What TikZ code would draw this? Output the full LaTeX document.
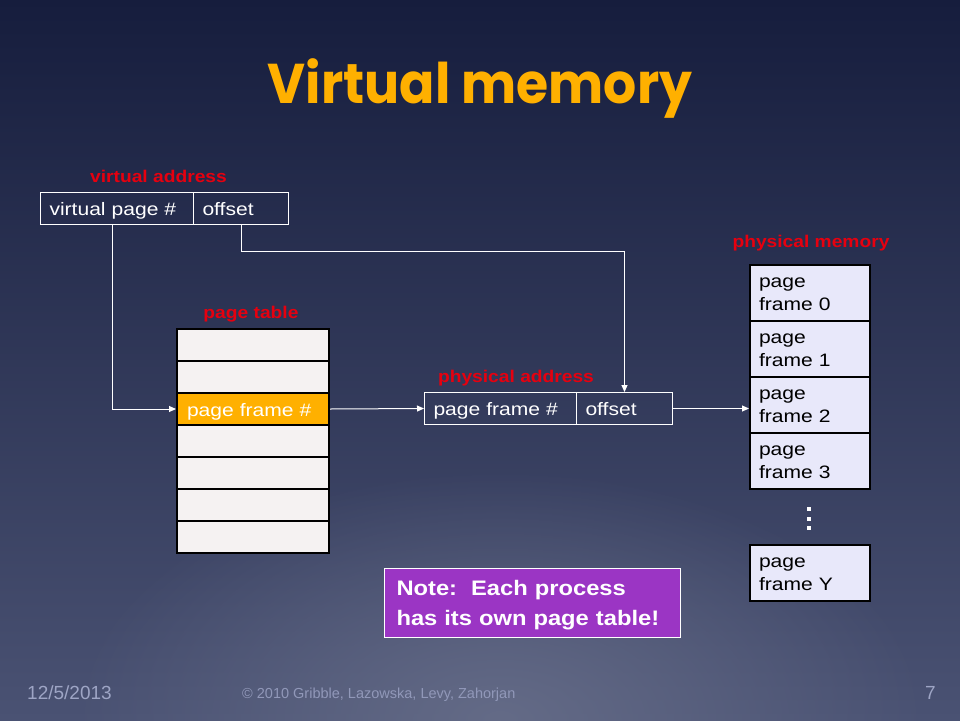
\documentclass[tikz,border=0pt]{standalone}
\usepackage{fontspec}
\setmainfont{Liberation Sans}[FakeStretch=1.17]
\newfontfamily\labfont{Liberation Sans}[FakeStretch=1.13]
\newfontfamily\titlefont{Poppins}[FakeStretch=0.93]
\newfontfamily\footfont{Liberation Sans}
\usetikzlibrary{arrows.meta,fadings}
\tikzfading[name=hlfade, inner color=transparent!0, outer color=transparent!100]
\definecolor{bgtop}{HTML}{161D3D}
\definecolor{bgmid}{HTML}{2C3456}
\definecolor{bgbot}{HTML}{4A5273}
\definecolor{bghl}{HTML}{646B87}
\definecolor{slideorange}{HTML}{FFB000}
\definecolor{labred}{HTML}{E6000F}
\definecolor{ptfill}{HTML}{F5F2F2}
\definecolor{pmfill}{HTML}{E8E8FA}
\definecolor{notepurple}{HTML}{9B35C4}
\definecolor{footgray}{HTML}{9EA5C5}
\begin{document}
\begin{tikzpicture}[x=1pt,y=-1pt,
  lab/.style={font=\labfont\bfseries\fontsize{17}{20}\selectfont, text=labred, anchor=base, inner sep=0pt},
  cell/.style={draw=white, line width=1pt, anchor=north west, minimum height=32pt,
    inner xsep=9pt, inner ysep=0pt, align=left, text height=14pt, text depth=0pt,
    font=\fontsize{18}{22}\selectfont, text=white},
  ptrow/.style={draw=black, line width=2pt, fill=ptfill, anchor=north west,
    minimum width=152pt, minimum height=32pt, inner sep=0pt},
  ptsel/.style={ptrow, fill=slideorange, text=white, align=left, text width=132pt,
    inner xsep=10pt, text height=15pt, text depth=0pt, font=\fontsize{18}{22}\selectfont},
  frame/.style={draw=black, line width=2pt, fill=pmfill, anchor=north west,
    minimum width=120pt, minimum height=56pt, text width=102pt, inner xsep=9pt, inner ysep=0pt,
    align=left, text height=14pt, text depth=25pt, font=\fontsize{18}{23}\selectfont, text=black},
  conn/.style={draw=white, line width=1pt, -{Triangle[length=7pt,width=6pt]}},
  foot/.style={font=\footfont\fontsize{19}{22}\selectfont, text=footgray, anchor=base west, inner sep=0pt}
]
\useasboundingbox (0,0) rectangle (960,720);
% background
\shade[top color=bgtop, middle color=bgmid, bottom color=bgbot] (0,0) rectangle (960,720);
\fill[bghl, path fading=hlfade] (500,720) ellipse [x radius=430, y radius=250];

% title
\node[font=\titlefont\bfseries\fontsize{56}{60}\selectfont, text=slideorange, anchor=base, inner sep=0pt] (title) at (480,103) {Virtual memory};

% labels
\node[lab] (lva) at (158.5,182.5) {virtual address};
\node[lab] (lpt) at (251,318) {page table};
\node[lab] (lpa) at (516,382.5) {physical address};
\node[lab] (lpm) at (811,247) {physical memory};

% virtual address
\node[cell, text width=135pt] (vpn) at (40,192) {virtual page \#};
\node[cell, text width=77pt] (voff) at (193,192) {offset};

% page table
\node[ptrow] (pt1) at (176,328) {};
\node[ptrow] (pt2) at (176,360) {};
\node[ptsel] (pt3) at (176,392) {page frame \#};
\node[ptrow] (pt4) at (176,424) {};
\node[ptrow] (pt5) at (176,456) {};
\node[ptrow] (pt6) at (176,488) {};
\node[ptrow] (pt7) at (176,520) {};

% physical address
\node[cell, text width=134pt] (pfn) at (424,392) {page frame \#};
\node[cell, text width=78pt] (poff) at (576,392) {offset};

% physical memory
\node[frame] (f0) at (749,264) {page\\frame 0};
\node[frame] (f1) at (749,320) {page\\frame 1};
\node[frame] (f2) at (749,376) {page\\frame 2};
\node[frame] (f3) at (749,432) {page\\frame 3};
\node[frame] (fy) at (749,544) {page\\frame Y};
\fill[white] (807,507) rectangle (811,511);
\fill[white] (807,516.5) rectangle (811,520.5);
\fill[white] (807,526) rectangle (811,530);

% connectors
\draw[conn] ([xshift=-4.5pt]vpn.south) |- (pt3.west);
\draw[conn] (voff.south) -- ++(0,26) -| (poff.north);
\draw[conn] (pt3.east) -- (pfn.west);
\draw[conn] (poff.east) -- (poff.east -| f2.west);

% note
\node[draw=white, line width=1pt, fill=notepurple, anchor=north west, minimum width=296pt,
  minimum height=69pt, text width=272pt, inner xsep=12pt, inner ysep=0pt, align=left,
  text height=15pt, text depth=30pt, font=\labfont\bfseries\fontsize{21}{30}\selectfont, text=white]
  (note) at (384,568) {Note:\ \ Each process\\has its own page table!};

% footer
\node[foot] (date) at (27,699) {12/5/2013};
\node[foot, font=\footfont\fontsize{14.5}{17}\selectfont, text=footgray!85!bgbot] (copy) at (242,698) {\textcopyright{} 2010 Gribble, Lazowska, Levy, Zahorjan};
\node[foot] (pnum) at (925,699) {7};
\end{tikzpicture}
\end{document}
